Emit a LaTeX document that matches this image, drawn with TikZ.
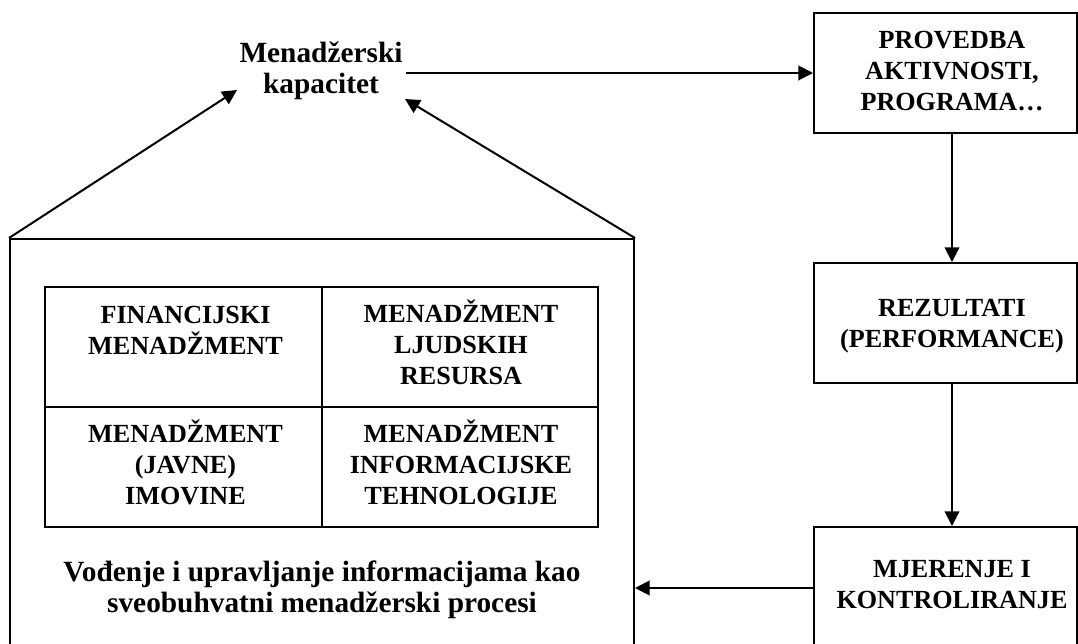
\documentclass[tikz,border=0pt]{standalone}
\usepackage{fontspec}
\setmainfont{Liberation Serif}
\usetikzlibrary{arrows.meta}
\newcommand\capsfnt{\fontsize{19.6pt}{23.25pt}\selectfont\bfseries}
\newcommand\lowfnt{\fontsize{22pt}{23.25pt}\selectfont\bfseries}
\begin{document}
\begin{tikzpicture}[x=0.75pt,y=-0.75pt,
  line width=1.5pt,
  arr/.style={-{Triangle[length=11pt,width=11pt]}},
  box/.style={draw, rectangle, inner sep=0pt},
  ctxt/.style={anchor=base, inner sep=0pt, align=center, font=\capsfnt},
  ltxt/.style={anchor=base, inner sep=2.25pt, align=center, font=\lowfnt}]
\useasboundingbox (0,0) rectangle (1078,643);
\clip (0,0) rectangle (1078,643);

% right column boxes
\node[box, minimum width=197.25pt, minimum height=90pt] (provbox) at (945.5,73) {};
\node[box, minimum width=197.25pt, minimum height=90pt] (rezbox) at (945.5,323) {};
\node[box, minimum width=197.25pt, minimum height=91.5pt] (mjerbox) at (945.5,588) {};
% anchor=base is the baseline of the last line
\node[ctxt] (prov) at (952,110) {PROVEDBA\\AKTIVNOSTI,\\PROGRAMA…};
\node[ctxt] (rez) at (952,347) {REZULTATI\\(PERFORMANCE)};
\node[ctxt] (mjer) at (952,608) {MJERENJE I\\KONTROLIRANJE};

% big box
\node[box, minimum width=468pt, minimum height=360.75pt] (big) at (322,479.5) {};

% table cells
\node[box, minimum width=207.75pt, minimum height=90pt] (c11) at (183.5,347) {};
\node[box, minimum width=207pt, minimum height=90pt] (c12) at (460,347) {};
\node[box, minimum width=207.75pt, minimum height=90pt] (c21) at (183.5,467) {};
\node[box, minimum width=207pt, minimum height=90pt] (c22) at (460,467) {};
\node[ctxt] (t11) at (185.5,354) {FINANCIJSKI\\MENADŽMENT};
\node[ctxt] (t12) at (461,384) {MENADŽMENT\\LJUDSKIH\\RESURSA};
\node[ctxt] (t21) at (185.5,504) {MENADŽMENT\\(JAVNE)\\IMOVINE};
\node[ctxt] (t22) at (461,504) {MENADŽMENT\\INFORMACIJSKE\\TEHNOLOGIJE};

\node[ltxt] (vod) at (322,612) {Vođenje i upravljanje informacijama kao\\sveobuhvatni menadžerski procesi};

% top label
\node[ltxt] (mk) at (321,93) {Menadžerski\\kapacitet};

% connectors
\coordinate (lt) at (237,90);
\coordinate (rt) at (405,99);
\draw[arr] (mk.east |- provbox.west) -- (provbox.west);
\draw[arr] (prov |- provbox.south) -- (prov |- rezbox.north);
\draw[arr] (prov |- rezbox.south) -- (prov |- mjerbox.north);
\draw[arr] (mjerbox.west) -- (mjerbox.west -| big.east);
\draw[arr] (big.north west) -- (lt);
\draw[arr] (big.north east) -- (rt);
\end{tikzpicture}
\end{document}
